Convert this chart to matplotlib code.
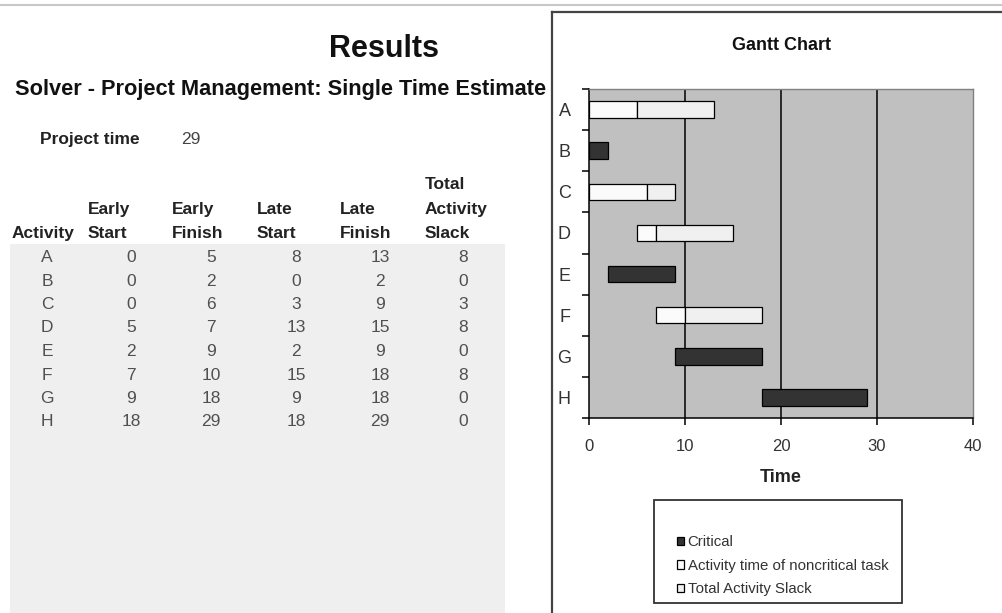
import matplotlib
matplotlib.use('Agg')
import matplotlib.pyplot as plt
from matplotlib.lines import Line2D
from matplotlib.patches import Rectangle
import numpy as np

# ---------------- data ----------------
activities = ['A', 'B', 'C', 'D', 'E', 'F', 'G', 'H']
early_start = [0, 0, 0, 5, 2, 7, 9, 18]
early_finish = [5, 2, 6, 7, 9, 10, 18, 29]
late_start = [8, 0, 3, 13, 2, 15, 9, 18]
late_finish = [13, 2, 9, 15, 9, 18, 18, 29]
total_slack = [8, 0, 3, 8, 0, 8, 0, 0]
project_time = 29
x_ticks = [0, 10, 20, 30, 40]
col_headers = ['Activity', 'Early\nStart', 'Early\nFinish', 'Late\nStart', 'Late\nFinish',
               'Total\nActivity\nSlack']
legend_labels = ['Critical', 'Activity time of noncritical task', 'Total Activity Slack']

# ---------------- figure ----------------
W, H = 1002, 613
plt.rcParams['font.family'] = ['Liberation Sans', 'DejaVu Sans']
fig = plt.figure(figsize=(W / 100, H / 100), dpi=100)
fig.patch.set_facecolor('white')


def fx(x):
    return x / W


def fy(y):
    return 1 - y / H


# top rule of the sheet
fig.add_artist(Line2D([0, 1], [fy(5), fy(5)], color='#c8c8c8', lw=1.5))

# table background
fig.add_artist(Rectangle((fx(10), 0), fx(505) - fx(10), fy(244), facecolor='#efefef',
                         edgecolor='none', transform=fig.transFigure, zorder=0))

# titles
fig.text(fx(384), fy(49), 'Results', ha='center', va='center', fontsize=22,
         fontweight='bold', color='#111111')
fig.text(fx(15), fy(89), 'Solver - Project Management: Single Time Estimate', ha='left',
         va='center', fontsize=15.7, fontweight='bold', color='#111111')
fig.text(fx(40), fy(139), 'Project time', ha='left', va='center', fontsize=12.5,
         fontweight='bold', color='#222222')
fig.text(fx(181), fy(139), str(project_time), ha='left', va='center', fontsize=12.5,
         color='#444444')

# column headers
header_x = [12, 88, 172, 257, 340, 425]
last_base = 238
line_gap = 24.5
for hx, head in zip(header_x, col_headers):
    lines = head.split('\n')
    n = len(lines)
    for i, ln in enumerate(lines):
        fig.text(fx(hx), fy(last_base - line_gap * (n - 1 - i)), ln, ha='left',
                 va='baseline', fontsize=12.5, fontweight='bold', color='#222222')

# table rows
value_cols = [early_start, early_finish, late_start, late_finish, total_slack]
value_x = [131, 211, 296, 380, 463]
row0 = 262
row_gap = 23.5
for i, act in enumerate(activities):
    yb = fy(row0 + row_gap * i)
    fig.text(fx(47), yb, act, ha='center', va='baseline', fontsize=12.5, color='#505050')
    for cx, col in zip(value_x, value_cols):
        fig.text(fx(cx), yb, str(col[i]), ha='center', va='baseline', fontsize=12.5,
                 color='#505050')

# chart frame
fig.add_artist(Line2D([fx(552), fx(552)], [0, fy(12)], color='#444444', lw=1.6))
fig.add_artist(Line2D([fx(552), 1], [fy(12), fy(12)], color='#444444', lw=1.6))

# ---------------- gantt ----------------
ax = fig.add_axes([fx(589), fy(418), fx(973) - fx(589), (418 - 89) / H])
ax.set_facecolor('#c0c0c0')

ypos = np.arange(len(activities))
es = np.array(early_start)
ef = np.array(early_finish)
sl = np.array(total_slack)
dur = ef - es
crit = sl == 0
nonc = ~crit

for xv in x_ticks[1:-1]:
    ax.axvline(xv, color='black', lw=1.1, zorder=0.5)

bar_h = 0.4
b_crit = ax.barh(ypos[crit], dur[crit], left=es[crit], height=bar_h, color='#333333',
                 edgecolor='black', lw=0.9, zorder=2)
b_act = ax.barh(ypos[nonc], dur[nonc], left=es[nonc], height=bar_h, color='#fbfbfb',
                edgecolor='black', lw=0.9, zorder=2)
b_slack = ax.barh(ypos[nonc], sl[nonc], left=ef[nonc], height=bar_h, color='#f0f0f0',
                  edgecolor='black', lw=0.9, zorder=2)

ax.set_xlim(x_ticks[0], x_ticks[-1])
ax.set_ylim(len(activities) - 0.5, -0.5)
ax.set_xticks(x_ticks)
ax.set_yticks(ypos)
ax.set_yticklabels(activities)
ax.set_yticks(np.arange(-0.5, len(activities), 1), minor=True)
ax.tick_params(axis='y', which='major', length=0, pad=13, labelsize=13,
               labelcolor='#333333')
ax.tick_params(axis='y', which='minor', length=5, width=1.1, direction='out',
               color='black')
ax.tick_params(axis='x', which='major', length=5, width=1.1, direction='out',
               color='black', pad=10, labelsize=12, labelcolor='#333333')

for s in ['left', 'bottom']:
    ax.spines[s].set_color('black')
    ax.spines[s].set_linewidth(1.1)
for s in ['top', 'right']:
    ax.spines[s].set_color('#808080')
    ax.spines[s].set_linewidth(1.0)

ax.set_xlabel('Time', fontsize=13, fontweight='bold', color='#222222', labelpad=11)
fig.text(fx(781), fy(45), 'Gantt Chart', ha='center', va='center', fontsize=13,
         fontweight='bold', color='#111111')

# legend
fig.add_artist(Rectangle((fx(654), fy(603)), fx(902) - fx(654), (603 - 500) / H,
                         facecolor='white', edgecolor='#333333', lw=1.3,
                         transform=fig.transFigure, zorder=1))
leg = fig.legend([b_crit, b_act, b_slack], legend_labels, loc='upper left',
                 bbox_to_anchor=(fx(669), fy(528)), frameon=False, fontsize=10.8,
                 handlelength=0.5, handleheight=0.5, handletextpad=0.25,
                 labelspacing=0.62, borderpad=0, labelcolor='#333333')
leg.set_zorder(3)

fig.savefig('out.png', dpi=100, facecolor='white')
